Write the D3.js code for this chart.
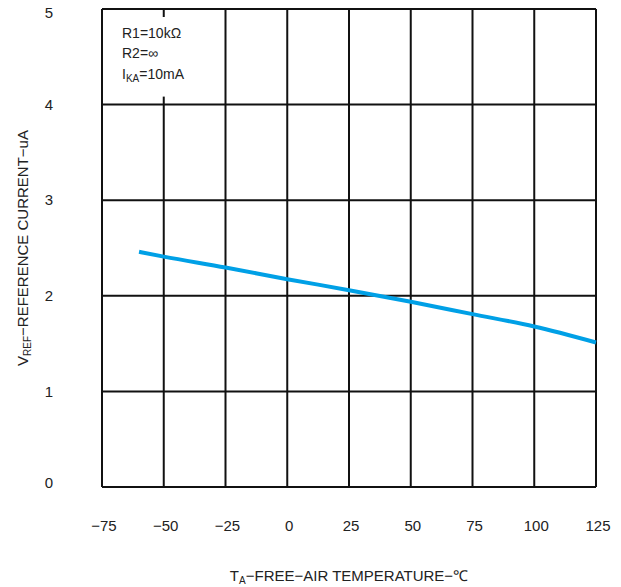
<!DOCTYPE html>
<html><head><meta charset="utf-8">
<script src="https://cdn.jsdelivr.net/npm/d3@7"></script>
<style>body{margin:0;background:#fff}text{font-family:"Liberation Sans",Arial,sans-serif;fill:#222}</style>
</head><body><svg id="c" width="621" height="587"></svg>
<script>
const xTicks = [-75,-50,-25,0,25,50,75,100,125];
const yTicks = [0,1,2,3,4,5];
const temps = [-60,-50,-25,0,25,50,75,100,125];
const iref  = [2.46,2.41,2.296,2.174,2.059,1.937,1.808,1.679,1.512];
const notes = [["R1=10kΩ",""],["R2=∞",""],["I","KA","=10mA"]];

const svg = d3.select("#c");
const L=102, R=596, T=9, B=487;
const x = d3.scaleLinear().domain([-75,125]).range([L,R]);
const y = d3.scaleLinear().domain([0,5]).range([B,T]);

// grid
const g = svg.append("g");
g.selectAll(".v").data(xTicks).join("line")
  .attr("x1",d=>x(d)).attr("x2",d=>x(d)).attr("y1",T).attr("y2",B)
  .attr("stroke","#111").attr("stroke-width",2);
g.selectAll(".h").data(yTicks).join("line")
  .attr("x1",L).attr("x2",R).attr("y1",d=>y(d)).attr("y2",d=>y(d))
  .attr("stroke","#111").attr("stroke-width",2);
// gap for annotation
svg.append("rect").attr("x",x(-75)+2).attr("y",T+8).attr("width",x(-25)-x(-75)-6).attr("height",y(4)-T-16).attr("fill","#fff");

// annotation
const ann = svg.append("g");
ann.append("text").attr("x",122).attr("y",38).attr("font-size",14).text(notes[0][0]);
ann.append("text").attr("x",122).attr("y",58).attr("font-size",14).text(notes[1][0]);
const t3 = ann.append("text").attr("x",122).attr("y",79).attr("font-size",14);
t3.append("tspan").text(notes[2][0]);
t3.append("tspan").attr("font-size",10).attr("dy",3).text(notes[2][1]);
t3.append("tspan").attr("dy",-3).text(notes[2][2]);

// tick labels
svg.selectAll(".yl").data(yTicks).join("text")
  .attr("x",49).attr("y",d=>y(d)+ (d===5?4:d===0?-4:0)).attr("dy","0.35em")
  .attr("text-anchor","middle").attr("font-size",15).text(d=>d);
svg.selectAll(".xl").data(xTicks).join("text")
  .attr("x",d=>x(d)+2).attr("y",531).attr("text-anchor","middle").attr("font-size",15)
  .text(d=>d<0?"\u2212"+Math.abs(d):d);

// curve
const data = temps.map((t,i)=>[t,iref[i]]);
svg.append("path").datum(data)
  .attr("d", d3.line().x(d=>x(d[0])).y(d=>y(d[1])).curve(d3.curveMonotoneX))
  .attr("fill","none").attr("stroke","#00a0e6").attr("stroke-width",4);

// axis titles
const xt = svg.append("text").attr("x",(L+R)/2).attr("y",581).attr("text-anchor","middle").attr("font-size",15);
xt.append("tspan").text("T");
xt.append("tspan").attr("font-size",10).attr("dy",3).text("A");
xt.append("tspan").attr("dy",-3).text("\u2212FREE\u2212AIR TEMPERATURE\u2212\u2103");

const yt = svg.append("text").attr("transform",`translate(28,${(T+B)/2}) rotate(-90)`).attr("text-anchor","middle").attr("font-size",15);
yt.append("tspan").text("V");
yt.append("tspan").attr("font-size",10).attr("dy",3).text("REF");
yt.append("tspan").attr("dy",-3).text("\u2212REFERENCE CURRENT\u2212uA");
</script></body></html>
